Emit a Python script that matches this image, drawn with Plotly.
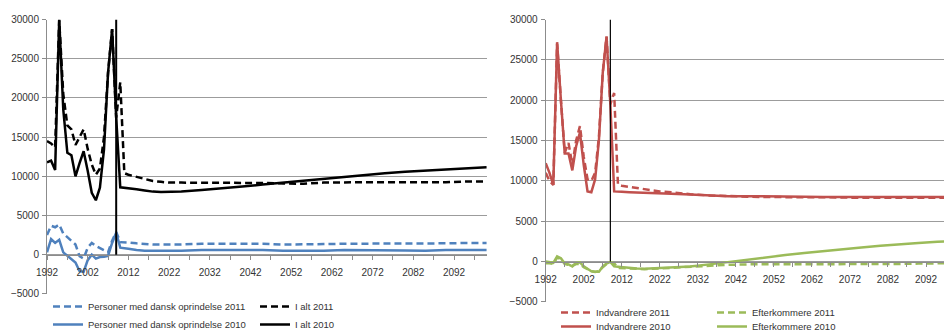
import plotly.graph_objects as go

# ---- data ----
YEARS = list(range(1992, 2013)) + [2014, 2016, 2018, 2020, 2022, 2025, 2030, 2035, 2040,
                                   2045, 2050, 2055, 2060, 2065, 2070, 2075, 2080, 2085,
                                   2090, 2095, 2100]

# left panel
dansk_2011 = [2500, 3700, 3500, 3850, 2700, 2200, 1800, 1300, -200, -500, 900, 1500, 1100,
              800, 600, 300, 1800, 2900, 1600, 1600, 1550,
              1450, 1350, 1300, 1300, 1300, 1300, 1400, 1400, 1400, 1400, 1300, 1300, 1350,
              1400, 1400, 1400, 1400, 1400, 1450, 1500, 1500]
dansk_2010 = [300, 2000, 1500, 1900, 300, -100, -500, -1000, -2100, -2200, -700, 0, -500,
              -300, -250, -150, 1500, 2800, 900, 800, 750,
              600, 500, 500, 500, 500, 500, 600, 600, 600, 600, 500, 500, 500,
              600, 600, 600, 550, 500, 600, 600, 600]
ialt_2011 = [14500, 14200, 13700, 29900, 20500, 16500, 16000, 14000, 15000, 16000, 13500,
             11500, 10200, 11000, 15000, 23200, 28800, 17500, 22000, 10400, 10200,
             9900, 9600, 9400, 9300, 9200, 9200, 9200, 9200, 9200, 9150, 9100, 9050, 9200,
             9250, 9250, 9250, 9250, 9250, 9250, 9350, 9350]
ialt_2010 = [11800, 12000, 10800, 30000, 18500, 13000, 12700, 10000, 11700, 13200, 10700,
             7900, 6950, 8550, 13400, 23200, 28800, 17500, 8600, 8550, 8500,
             8350, 8200, 8050, 8000, 8000, 8050, 8250, 8450, 8700, 8950, 9200, 9450, 9700,
             9950, 10200, 10400, 10600, 10750, 10900, 11000, 11150]

# right panel
indv_2011 = [11000, 10000, 9500, 27000, 20000, 13500, 14700, 12000, 15000, 16800, 13000,
             10200, 10000, 11000, 15500, 23400, 27900, 19500, 20900, 9550, 9400,
             9250, 9100, 8950, 8800, 8700, 8600, 8350, 8200, 8100, 8050, 8000, 8000, 7950,
             7950, 7950, 7900, 7900, 7900, 7900, 7900, 7900]
indv_2010 = [12200, 11000, 9500, 27200, 20000, 13400, 13400, 11300, 14300, 16000, 12000,
             8700, 8600, 10200, 15100, 23400, 27900, 19500, 8700, 8650, 8650,
             8600, 8550, 8500, 8450, 8450, 8400, 8300, 8200, 8100, 8100, 8100, 8050, 8050,
             8000, 8000, 8000, 8000, 8000, 8000, 8000, 8000]
efter_2011 = [-200, -200, -300, 500, 300, -300, -400, -500, -300, -300, -700, -1000, -1200,
              -1300, -1200, -700, -300, -100, -200, -800, -800,
              -850, -900, -950, -900, -850, -800, -650, -500, -400, -350, -350, -350, -350,
              -300, -300, -300, -300, -300, -250, -250, -200]
efter_2010 = [0, -50, -150, 650, 400, -250, -350, -600, -150, -100, -600, -900, -1200,
              -1250, -1250, -600, -250, -50, -600, -650, -700,
              -750, -850, -900, -850, -850, -750, -600, -350, -50, 250, 550, 800, 1050,
              1300, 1550, 1750, 1950, 2150, 2300, 2450, 2550]

# vertical divider between history and projection
DIVIDER_X = [2009, 2009]
DIVIDER_Y = [0, 30000]

BLUE = "#4F81BD"
BLACK = "#000000"
RED = "#C0504D"
GREEN = "#9BBB59"
DASH = "7px,4px"
FONT = "Liberation Sans, Arial, sans-serif"

W, H = 944, 331


def py(pix):
    return 1 - pix / H


fig = go.Figure()

# (name, values, colour, dash, legend x px, legend top px)
left = [
    ("Personer med dansk oprindelse 2011", dansk_2011, BLUE, DASH, 48, 292),
    ("Personer med dansk oprindelse 2010", dansk_2010, BLUE, "solid", 48, 310),
    ("I alt 2011", ialt_2011, BLACK, DASH, 255, 292),
    ("I alt 2010", ialt_2010, BLACK, "solid", 255, 310),
]
right = [
    ("Indvandrere 2011", indv_2011, RED, DASH, 556, 298),
    ("Indvandrere 2010", indv_2010, RED, "solid", 556, 312),
    ("Efterkommere 2011", efter_2011, GREEN, DASH, 712, 298),
    ("Efterkommere 2010", efter_2010, GREEN, "solid", 712, 312),
]

legfont = dict(family=FONT, size=9.5, color="#333333")
n = 0
for group, xa, ya in [(left, "x", "y"), (right, "x2", "y2")]:
    for name, vals, col, dash, lx, ly in group:
        n += 1
        key = "legend" if n == 1 else f"legend{n}"
        fig.add_trace(go.Scatter(x=YEARS, y=vals, mode="lines", name=name, legend=key,
                                 line=dict(color=col, width=2.5, dash=dash),
                                 xaxis=xa, yaxis=ya))
        fig.update_layout({key: dict(x=lx / W, y=py(ly), xanchor="left", yanchor="top",
                                     font=legfont, bgcolor="rgba(0,0,0,0)",
                                     borderwidth=0)})

fig.add_trace(go.Scatter(x=DIVIDER_X, y=DIVIDER_Y, mode="lines", showlegend=False,
                         line=dict(color="black", width=2), xaxis="x", yaxis="y"))
fig.add_trace(go.Scatter(x=DIVIDER_X, y=DIVIDER_Y, mode="lines", showlegend=False,
                         line=dict(color="black", width=1.2), xaxis="x2", yaxis="y2"))

# panel geometry (pixels measured from reference)
L_dom_y = [py(294), py(19.5)]
R_dom_y = [py(302), py(19.5)]
zero_frac = 5000 / 35000
L_zero = L_dom_y[0] + zero_frac * (L_dom_y[1] - L_dom_y[0])
R_zero = R_dom_y[0] + zero_frac * (R_dom_y[1] - R_dom_y[0])

tickfont = dict(family=FONT, size=10, color="#333333")

yax = dict(range=[-5015, 30015], dtick=5000, tickformat="d", showgrid=True,
           gridcolor="#9C9C9C", gridwidth=1, zeroline=False, showline=True,
           linecolor="#8C8C8C", ticks="outside", ticklen=4, tickcolor="#8C8C8C",
           tickfont=tickfont, ticklabelstandoff=1)
xax = dict(dtick=10, tick0=1992, tickformat="d", showgrid=False, zeroline=False,
           showline=True, linecolor="#8C8C8C", ticks="outside", ticklen=4,
           tickcolor="#8C8C8C",
           minor=dict(dtick=5, tick0=1992, ticks="outside", ticklen=4, tickcolor="#8C8C8C"),
           tickfont=tickfont, anchor="free", ticklabelstandoff=4)

fig.update_layout(
    width=W, height=H,
    margin=dict(l=0, r=0, t=0, b=0, autoexpand=False),
    paper_bgcolor="white", plot_bgcolor="white",
    font=dict(family=FONT, size=10, color="#333333"),
    xaxis=dict(xax, domain=[47 / W, 487 / W], range=[1992, 1992 + 440 / 4.07],
               position=L_zero),
    yaxis=dict(yax, domain=L_dom_y, anchor="x"),
    xaxis2=dict(xax, domain=[545.7 / W, 1.0], range=[1992, 1992 + 398.3 / 3.803],
                position=R_zero),
    yaxis2=dict(yax, domain=R_dom_y, anchor="x2"),
)

fig.write_html("out.html", config={"displayModeBar": False},
               post_script="document.body.style.margin='0';"
                           "document.body.style.overflow='hidden';")
